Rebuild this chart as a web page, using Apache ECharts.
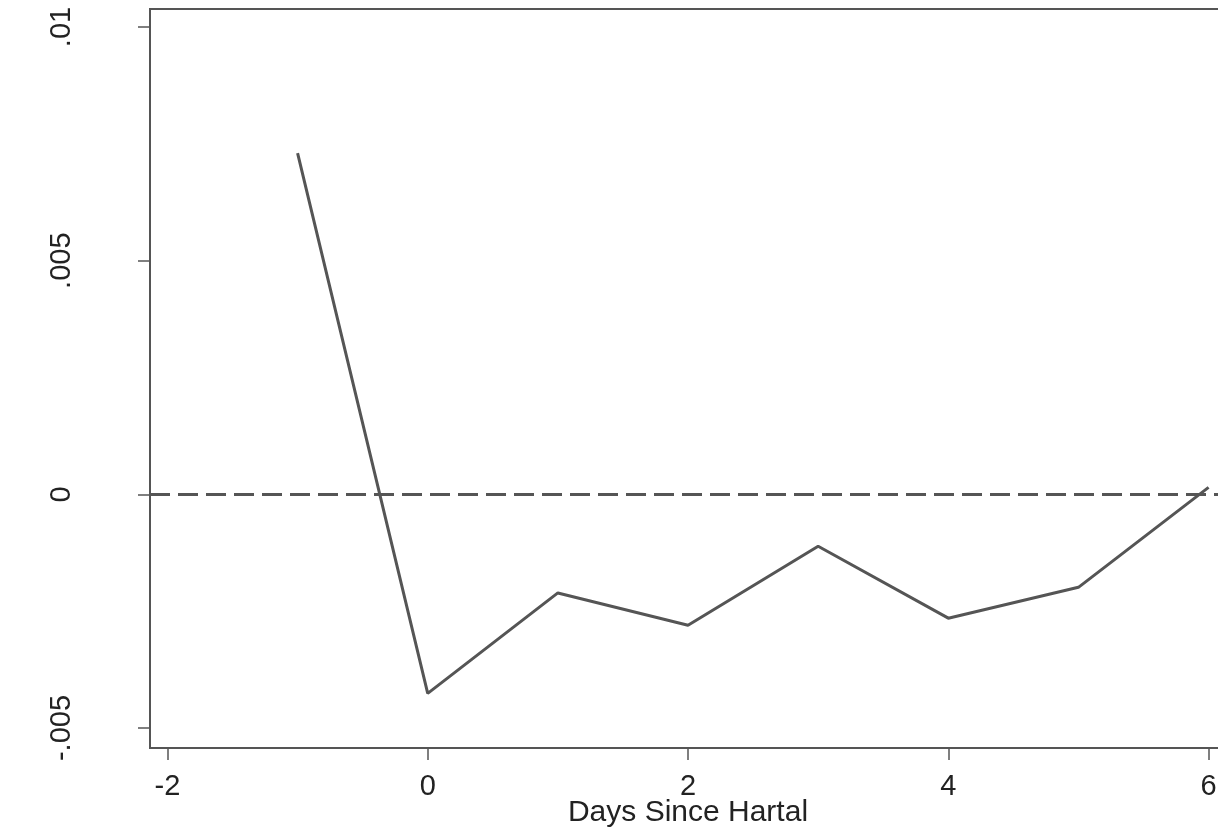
<!DOCTYPE html>
<html><head><meta charset="utf-8">
<script src="https://cdn.jsdelivr.net/npm/echarts@6/dist/echarts.min.js"></script>
<style>html,body{margin:0;padding:0;background:#fff}#c{width:1218px;height:836px}</style>
</head><body><div id="c"></div>
<script>
const days = [-1, 0, 1, 2, 3, 4, 5, 6];
const effect = [0.00730, -0.00426, -0.00211, -0.00280, -0.00111, -0.00265, -0.00199, 0.00015];
const xTicks = [-2, 0, 2, 4, 6];
const yTicks = [-0.005, 0, 0.005, 0.01];
const yTickLabels = ['-.005', '0', '.005', '.01'];
const xTitle = 'Days Since Hartal';

const chart = echarts.init(document.getElementById('c'));
const font = 'Liberation Sans, Arial, sans-serif';
chart.setOption({
  animation: false,
  backgroundColor: '#fff',
  grid: { left: 150, top: 9, width: 1076, height: 739, outerBoundsMode: 'none', containLabel: false,
          show: true, borderColor: '#555', borderWidth: 2, backgroundColor: 'transparent' },
  xAxis: {
    type: 'value', min: -2.134, max: 6.134,
    name: xTitle, nameLocation: 'middle', nameGap: 50, nameMoveOverlap: false,
    nameTextStyle: { fontSize: 30, color: '#222', fontFamily: font, verticalAlign: 'top' },
    axisLine: { show: true, onZero: false, lineStyle: { color: '#555', width: 2 } },
    axisTick: { show: true, length: 12, lineStyle: { color: '#555', width: 1.5 }, customValues: xTicks },
    axisLabel: { fontSize: 29, color: '#222', fontFamily: font, margin: 24, customValues: xTicks, formatter: v => String(v) },
    splitLine: { show: false }
  },
  yAxis: {
    type: 'value', min: -0.005428, max: 0.010385,
    axisLine: { show: true, onZero: false, lineStyle: { color: '#555', width: 2 } },
    axisTick: { show: true, length: 12, lineStyle: { color: '#555', width: 1.5 }, customValues: yTicks },
    axisLabel: { fontSize: 29, color: '#222', fontFamily: font, margin: 88, rotate: 90, align: 'center', verticalAlign: 'middle',
      customValues: yTicks,
      formatter: v => { const i = yTicks.findIndex(t => Math.abs(t - v) < 1e-9); return i >= 0 ? yTickLabels[i] : ''; } },
    splitLine: { show: false }
  },
  series: [
    {
      type: 'line', data: days.map((d, i) => [d, effect[i]]),
      symbol: 'none', lineStyle: { color: '#555', width: 3 },
      markLine: {
        silent: true, symbol: 'none', label: { show: false },
        lineStyle: { color: '#555', width: 3, type: [20, 8] },
        data: [{ yAxis: 0 }]
      }
    }
  ]
});
</script></body></html>
